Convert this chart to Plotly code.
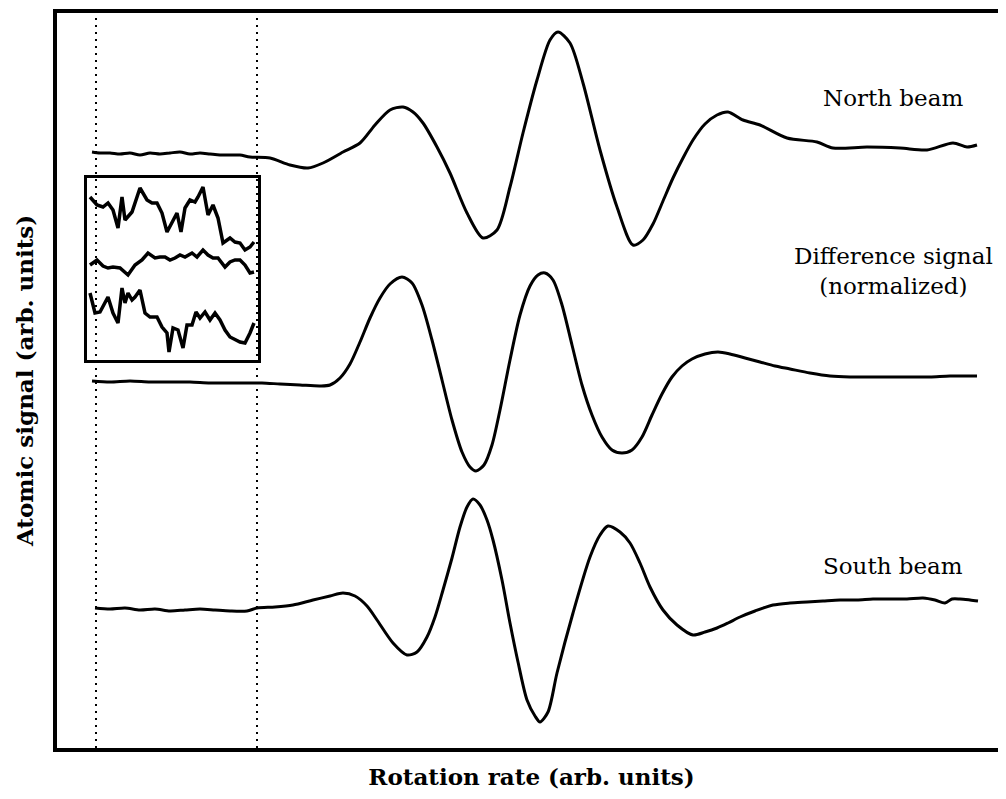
import plotly.graph_objects as go

# ---- main curves (rotation rate, signal) ----
north_x = [35,43,53,63,73,83,93,103,113,123,133,143,153,163,173,183,193,213,233,251,266,286,303,318,333,346,356,366,380,393,410,426,440,453,466,480,493,501,513,526,543,560,576,586,596,606,616,626,636,648,660,671,686,703,730,760,776,810,843,870,896,910,920]
north_y = [596,595,595,594,595,593,595,594,595,596,594,595,594,593,593,593,591,590,583,580,585,596,605,623,638,641,636,625,601,575,535,510,518,561,615,668,708,716,705,665,598,541,503,508,524,547,570,590,608,624,633,636,628,623,610,606,600,601,600,598,605,601,603]

diff_x = [35,53,73,93,113,133,153,173,193,205,223,243,263,273,283,293,303,313,323,333,345,355,365,375,385,395,405,413,419,427,435,443,453,463,473,481,488,496,505,515,525,535,545,555,565,575,585,595,605,615,625,635,648,661,673,688,703,718,733,753,773,793,813,833,853,873,893,920]
diff_y = [367,366,367,366,366,366,365,365,365,365,364,363,362,363,370,384,406,430,450,464,471,465,443,408,368,328,296,281,277,283,303,338,388,433,462,473,475,468,443,403,363,333,311,298,295,298,311,333,354,371,382,389,394,396,394,390,386,382,379,375,372,371,371,371,371,371,372,372]

south_x = [38,53,68,83,98,113,128,143,158,173,190,200,218,236,256,273,286,298,310,320,336,350,360,370,378,386,395,403,410,416,423,430,436,445,453,461,470,478,483,491,500,516,533,543,551,563,573,583,593,606,620,636,648,660,671,683,698,716,733,750,766,783,800,816,833,850,866,878,888,895,903,913,921]
south_y = [140,139,140,138,139,137,138,139,138,137,137,140,141,143,148,152,155,152,142,128,105,93,96,111,131,158,190,221,241,249,243,228,208,168,125,86,48,32,26,36,75,135,191,213,222,216,205,185,161,138,123,113,116,120,125,131,137,143,145,146,147,148,148,149,149,149,150,148,145,149,149,148,147]

# ---- inset (magnified flat region between dotted lines) ----
inset_top_x = [33,40,46,51,56,61,65,68,75,83,90,95,100,105,110,115,120,124,128,133,138,141,146,151,156,161,166,173,178,183,188,193,197]
inset_top_y = [163,155,153,157,150,132,163,140,148,172,160,157,157,147,128,137,147,128,152,160,158,163,173,145,155,142,117,122,118,117,110,113,118]

inset_mid_x = [33,40,46,51,56,63,71,78,85,91,98,103,108,113,118,123,128,135,140,146,151,156,161,168,173,178,183,188,193,197]
inset_mid_y = [95,100,94,92,93,92,85,95,100,107,102,103,103,100,102,105,103,107,103,110,105,102,102,93,98,100,100,95,87,88]

inset_bot_x = [33,38,43,51,56,61,65,68,71,75,78,83,88,93,100,105,110,112,116,121,126,130,135,139,143,148,153,158,163,168,173,178,183,188,193,197]
inset_bot_y = [67,47,48,63,47,37,72,57,67,60,63,70,47,43,43,33,27,8,32,30,12,35,35,48,42,48,40,47,40,30,23,20,18,17,27,37]

window_edges = [39, 200]

labels = ["North beam", "Difference signal<br>(normalized)", "South beam"]
label_x = [836, 836, 836]
label_y = [650, 477, 182]

SERIF = "DejaVu Serif"

fig = go.Figure()
for xs, ys in [(north_x, north_y), (diff_x, diff_y), (south_x, south_y)]:
    fig.add_trace(go.Scatter(x=xs, y=ys, mode="lines",
                             line=dict(color="black", width=3, shape="spline", smoothing=0.8),
                             showlegend=False, hoverinfo="skip"))

for xs, ys in [(inset_top_x, inset_top_y), (inset_mid_x, inset_mid_y), (inset_bot_x, inset_bot_y)]:
    fig.add_trace(go.Scatter(x=xs, y=ys, mode="lines", line=dict(color="black", width=3.5),
                             xaxis="x2", yaxis="y2", showlegend=False, hoverinfo="skip"))

for xe in window_edges:
    fig.add_shape(type="line", xref="x", yref="paper", x0=xe, x1=xe, y0=0, y1=1,
                  line=dict(color="black", width=2, dash="2px,5px"), layer="above")

for t, x, y in zip(labels, label_x, label_y):
    fig.add_annotation(x=x, y=y, xref="x", yref="y", text=t, showarrow=False,
                       font=dict(family=SERIF, size=23, color="black"), align="center")

fig.update_layout(
    width=998, height=791,
    margin=dict(l=49, r=0, t=5, b=51),
    paper_bgcolor="white", plot_bgcolor="white",
    font=dict(family=SERIF, color="black"),
    xaxis=dict(range=[0, 949], showline=True, linecolor="black", linewidth=4, mirror=True,
               showticklabels=False, ticks="", showgrid=False, zeroline=False,
               title=dict(text="<b>Rotation rate (arb. units)</b>", standoff=19,
                          font=dict(family=SERIF, size=23, color="black"))),
    yaxis=dict(range=[0, 735], showline=True, linecolor="black", linewidth=4, mirror=False,
               showticklabels=False, ticks="", showgrid=False, zeroline=False,
               title=dict(text="<b>Atomic signal (arb. units)</b>", standoff=14,
                          font=dict(family=SERIF, size=23, color="black"))),
    xaxis2=dict(domain=[30/949, 201/949], range=[30, 201], anchor="y2", showline=True, mirror=True,
                linecolor="black", linewidth=3, showticklabels=False, ticks="", showgrid=False, zeroline=False),
    yaxis2=dict(domain=[388/735, 570/735], range=[0, 182], anchor="x2", showline=True, mirror=True,
                linecolor="black", linewidth=3, showticklabels=False, ticks="", showgrid=False, zeroline=False),
)

fig.write_html("out.html")
